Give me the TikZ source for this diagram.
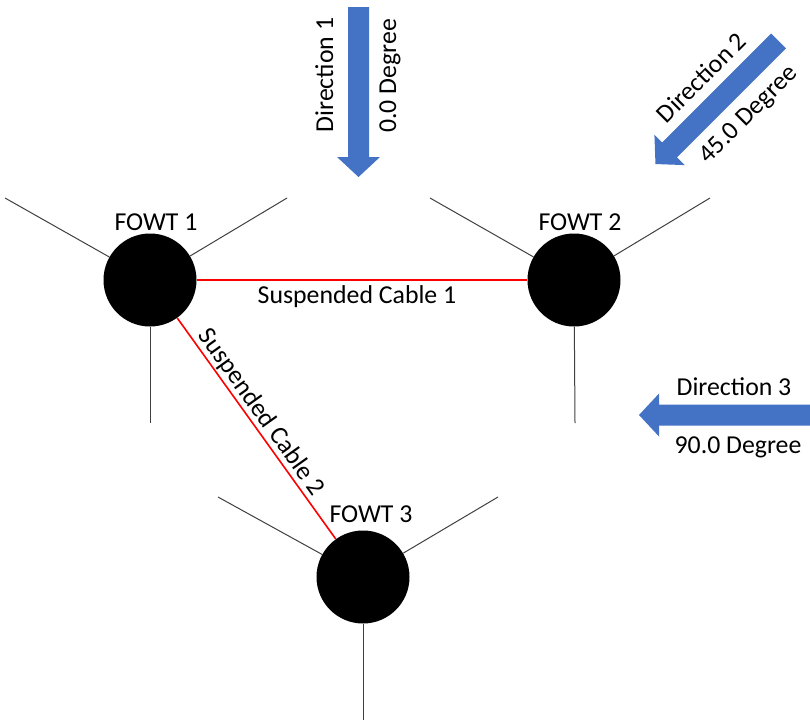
\documentclass[tikz,border=0pt]{standalone}
\usepackage{fontspec}
\setmainfont{Carlito}
\definecolor{wind}{HTML}{4472C4}
\begin{document}
\begin{tikzpicture}[x=1pt,y=-1pt,
  fowt/.style={circle,fill=black,minimum size=93pt,inner sep=0pt},
  mooring/.style={draw=black!75,line width=1pt},
  cable/.style={draw=red,line width=1.6pt},
  lbl/.style={font=\fontsize{25.8}{30}\selectfont,inner sep=0pt,anchor=base},
  windarrow/.style={fill=wind}]
\useasboundingbox (0,0) rectangle (810,720);
% turbines
\node[fowt] (f1) at (150,280) {};
\node[fowt] (f2) at (574,280) {};
\node[fowt] (f3) at (363,577) {};
% mooring line ends
\coordinate (f1a) at (5,198);
\coordinate (f1b) at (287,198);
\coordinate (f1c) at (150,423);
\coordinate (f2a) at (430,198);
\coordinate (f2b) at (710,198);
\coordinate (f2c) at (575,423);
\coordinate (f3a) at (218,497);
\coordinate (f3b) at (498,497);
\coordinate (f3c) at (363,720);
\draw[mooring] (f1) -- (f1a);
\draw[mooring] (f1) -- (f1b);
\draw[mooring] (f1) -- (f1c);
\draw[mooring] (f2) -- (f2a);
\draw[mooring] (f2) -- (f2b);
\draw[mooring] (f2) -- (f2c);
\draw[mooring] (f3) -- (f3a);
\draw[mooring] (f3) -- (f3b);
\draw[mooring] (f3) -- (f3c);
% cables
\draw[cable] (f1) -- (f2);
\draw[cable] (f1) -- (f3);
% labels
\node[lbl] (l1) at (156,230) {FOWT 1};
\node[lbl] (l2) at (580,230) {FOWT 2};
\node[lbl] (l3) at (371,522) {FOWT 3};
\node[lbl] (c1) at (357,303) {Suspended Cable 1};
\node[lbl,rotate=-54.45] (c2) at (255.5,416.6) {Suspended Cable 2};
% wind arrows
\begin{scope}[shift={(358.5,7)},rotate=-90]
\fill[windarrow] (0,-10.5) -- (150,-10.5) -- (150,-21.5) -- (170,0) -- (150,21.5) -- (150,10.5) -- (0,10.5) -- cycle;
\end{scope}
\begin{scope}[shift={(778.5,41)},rotate=225]
\fill[windarrow] (0,-10.5) -- (154,-10.5) -- (154,-21.5) -- (174,0) -- (154,21.5) -- (154,10.5) -- (0,10.5) -- cycle;
\end{scope}
\begin{scope}[shift={(811,415)},rotate=180]
\fill[windarrow] (0,-10.5) -- (152,-10.5) -- (152,-21.5) -- (172,0) -- (152,21.5) -- (152,10.5) -- (0,10.5) -- cycle;
\end{scope}
\node[lbl,rotate=90] (d1a) at (333,75) {Direction 1};
\node[lbl,rotate=90] (d1b) at (396,76) {0.0 Degree};
\node[lbl,rotate=45] (d2a) at (707.5,83.5) {Direction 2};
\node[lbl,rotate=45] (d2b) at (753.5,119.5) {45.0 Degree};
\node[lbl] (d3a) at (734,395) {Direction 3};
\node[lbl] (d3b) at (738,453) {90.0 Degree};
\end{tikzpicture}
\end{document}
